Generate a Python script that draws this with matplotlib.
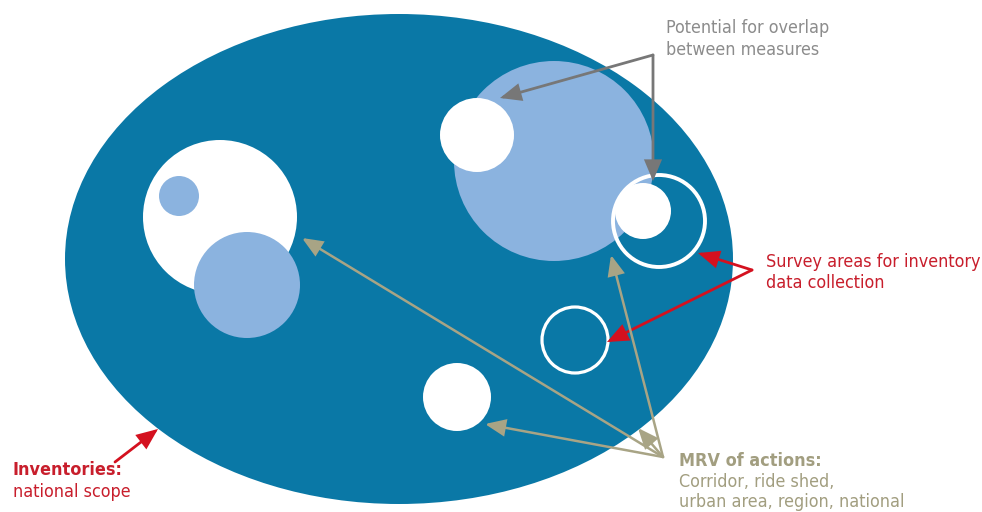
import matplotlib
matplotlib.use("Agg")
import matplotlib.pyplot as plt
import matplotlib.font_manager as fm
from matplotlib.patches import Ellipse, Circle

# ---- data (pixel coordinates of the diagram, y downward) ----
scope_center = (399, 259)
scope_size = (668, 490)

fill_circle_x = [554, 477, 643, 457, 220, 179, 247]
fill_circle_y = [161, 135, 211, 397, 217, 196, 285]
fill_circle_r = [100, 37, 28, 34, 77, 20, 53]
fill_circle_kind = ["light", "white", "white", "white", "white", "light", "light"]

ring_x = [659, 575]
ring_y = [221, 340]
ring_r = [46, 33]

gray_vertex = (653, 55)
gray_tips = [(500, 98), (653, 181)]

red_vertex = (752, 270)
red_tips = [(698, 253), (607, 342)]

inv_tail = (115, 462)
inv_tip = (158, 429)

khaki_vertex = (663, 457)
khaki_tips = [(302, 238), (485, 424), (611, 255), (638, 428)]

gray_lines = ["Potential for overlap", "between measures"]
gray_base = [33, 55]
red_lines = ["Survey areas for inventory", "data collection"]
red_base = [267, 288]
inv_lines = ["Inventories:", "national scope"]
inv_base = [475, 497]
mrv_lines = ["MRV of actions:", "Corridor, ride shed,", "urban area, region, national"]
mrv_base = [466, 487, 507]

# ---- colours ----
DARK = "#0a78a6"
LIGHT = "#8bb3df"
WHITE = "#ffffff"
GRAY_TXT = "#8c8c8c"
GRAY_ARR = "#777777"
RED_TXT = "#c81e2c"
RED_ARR = "#d4111f"
KHAKI_TXT = "#a29e80"
KHAKI_ARR = "#a8a485"

# ---- pick a narrow font if one is installed ----
regular_fp = None
bold_fp = None
narrow = [f for f in fm.fontManager.ttflist
          if ('condensed' in f.fname.lower() or 'narrow' in f.fname.lower())
          and f.style == 'normal' and 'mono' not in f.fname.lower()]
pref = ['Roboto', 'Open Sans', 'Noto Sans', 'Liberation Sans', 'DejaVu Sans', 'Lato', 'Inter']
narrow.sort(key=lambda f: (pref.index(f.name) if f.name in pref else 99))
for f in narrow:
    w = f.weight if isinstance(f.weight, int) else {'normal': 400, 'regular': 400, 'bold': 700}.get(str(f.weight), 400)
    if regular_fp is None and w == 400 and 'italic' not in f.fname.lower():
        regular_fp = f
for f in narrow:
    w = f.weight if isinstance(f.weight, int) else {'bold': 700}.get(str(f.weight), 400)
    if regular_fp is not None and f.name == regular_fp.name and 500 <= w <= 700 and 'italic' not in f.fname.lower():
        if bold_fp is None or abs(w - 550) < abs((bold_fp.weight if isinstance(bold_fp.weight, int) else 700) - 550):
            bold_fp = f


def props(size, bold=False):
    if regular_fp is not None:
        src = bold_fp if (bold and bold_fp is not None) else regular_fp
        fp = fm.FontProperties(fname=src.fname, size=size)
        return fp
    return fm.FontProperties(family=['Roboto', 'DejaVu Sans'], size=size,
                             weight='medium' if bold else 'normal')


fig = plt.figure(figsize=(9.82, 5.12), dpi=100)
ax = fig.add_axes([0, 0, 1, 1])
ax.set_xlim(0, 982)
ax.set_ylim(512, 0)
ax.set_aspect('equal')
ax.axis('off')

ax.add_patch(Ellipse(scope_center, scope_size[0], scope_size[1], color=DARK, lw=0, zorder=1))

for x, y, r, k in zip(fill_circle_x, fill_circle_y, fill_circle_r, fill_circle_kind):
    ax.add_patch(Circle((x, y), r, color=LIGHT if k == "light" else WHITE, lw=0, zorder=2))

for x, y, r, lw in zip(ring_x, ring_y, ring_r, [2.8, 2.3]):
    ax.add_patch(Circle((x, y), r, fill=False, ec=WHITE, lw=lw, zorder=3))


def arrow(tail, tip, color, lw):
    ax.annotate("", xy=tip, xytext=tail,
                arrowprops=dict(arrowstyle="-|>,head_length=1.0,head_width=0.42",
                                mutation_scale=12, color=color, lw=lw,
                                shrinkA=0, shrinkB=0, joinstyle='miter'),
                zorder=5)


for t in gray_tips:
    arrow(gray_vertex, t, GRAY_ARR, 2.0)
for t in red_tips:
    arrow(red_vertex, t, RED_ARR, 2.0)
arrow(inv_tail, inv_tip, RED_ARR, 2.0)
for t in khaki_tips:
    arrow(khaki_vertex, t, KHAKI_ARR, 1.8)

# ---- fit the common font size to the widths seen in the reference ----
renderer = fig.canvas.get_renderer()
targets = [("urban area, region, national", 224), ("Survey areas for inventory", 212),
           ("Potential for overlap", 167), ("national scope", 117)]
ratios = []
for s, wpx in targets:
    t = ax.text(0, 0, s, fontproperties=props(10))
    w = t.get_window_extent(renderer).width
    t.remove()
    ratios.append(wpx / w * 10)
FS = sum(ratios) / len(ratios)
FS = min(FS, 13.5)


def lines(xs, texts, bases, color, bold_first=False):
    for i, (t, b) in enumerate(zip(texts, bases)):
        ax.text(xs, b, t, color=color, va='baseline', ha='left',
                fontproperties=props(FS, bold=(bold_first and i == 0)), zorder=6)


lines(666, gray_lines, gray_base, GRAY_TXT)
lines(766, red_lines, red_base, RED_TXT)
lines(13, inv_lines, inv_base, RED_TXT, bold_first=True)
lines(679, mrv_lines, mrv_base, KHAKI_TXT, bold_first=True)

fig.savefig("out.png", dpi=100)
